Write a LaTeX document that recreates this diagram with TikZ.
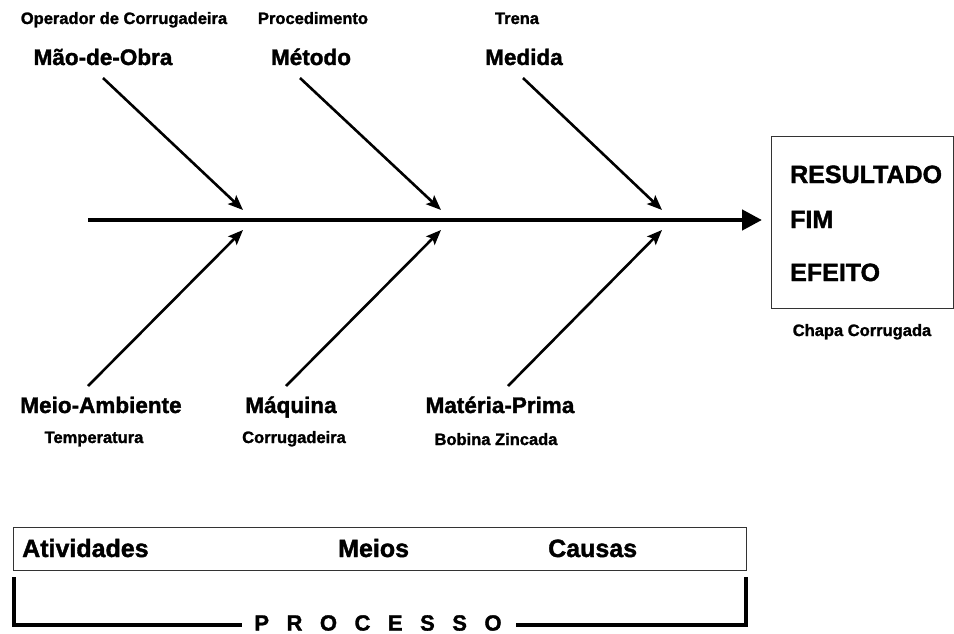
\documentclass[tikz,border=0pt]{standalone}
\usepackage{fontspec}
\setmainfont{Liberation Sans}[BoldFeatures={FakeBold=1.5}]
\usetikzlibrary{arrows.meta}
\begin{document}
\begin{tikzpicture}[x=1pt,y=-1pt,
  small/.style={font=\bfseries\fontsize{16.5}{17}\selectfont, inner sep=0pt, anchor=base},
  head/.style={font=\bfseries\fontsize{22.5}{23}\selectfont, inner sep=0pt, anchor=base},
  big/.style={font=\bfseries\fontsize{25}{26}\selectfont, inner sep=0pt, anchor=base west},
  spine/.style={line width=4.5pt, -{Triangle[length=20pt,width=20pt]}},
  bone/.style={line width=2.6pt, -{Stealth[length=15pt,width=12pt,inset=3pt]}},
  frame/.style={draw=black!80, line width=1.3pt},
  brack/.style={line width=3.5pt}
]
\useasboundingbox (0,0) rectangle (954,634);

% top labels
\node[small] (op) at (124,24) {Operador de Corrugadeira};
\node[small] (pr) at (313,24) {Procedimento};
\node[small] (tr) at (517,24) {Trena};
\node[head] (mo) at (103,65) {Mão-de-Obra};
\node[head] (me) at (311,65) {Método};
\node[head] (md) at (524,65) {Medida};

% bottom labels
\node[head] (ma) at (101,413) {Meio-Ambiente};
\node[head] (mq) at (291,413) {Máquina};
\node[head] (mp) at (500,413) {Matéria-Prima};
\node[small] (te) at (94,443) {Temperatura};
\node[small] (co) at (294,443) {Corrugadeira};
\node[small] (bz) at (496,445) {Bobina Zincada};

% spine
\coordinate (s0) at (88,220);
\coordinate (s1) at (762,220);
\draw[spine] (s0) -- (s1);

% bones
\coordinate (a1) at (103,78);  \coordinate (b1) at (243,210);
\coordinate (a2) at (300,78);  \coordinate (b2) at (441,210);
\coordinate (a3) at (523,78);  \coordinate (b3) at (662,210);
\coordinate (c1) at (88,386);  \coordinate (d1) at (243,230);
\coordinate (c2) at (286,386); \coordinate (d2) at (441,230);
\coordinate (c3) at (508,386); \coordinate (d3) at (662,230);
\draw[bone] (a1) -- (b1);
\draw[bone] (a2) -- (b2);
\draw[bone] (a3) -- (b3);
\draw[bone] (c1) -- (d1);
\draw[bone] (c2) -- (d2);
\draw[bone] (c3) -- (d3);

% result box
\node[frame, anchor=north west, minimum width=182pt, minimum height=172pt, inner sep=0pt] (res) at (771,136) {};
\node[big] (r1) at (790,183) {RESULTADO};
\node[big] (r2) at (790,228) {FIM};
\node[big] (r3) at (790,281) {EFEITO};
\node[small] (cc) at (862,336) {Chapa Corrugada};

% process box
\node[frame, anchor=north west, minimum width=733pt, minimum height=43pt, inner sep=0pt] (act) at (13,527) {};
\node[big] (t1) at (22,557) {Atividades};
\node[big] (t2) at (338,557) {Meios};
\node[big] (t3) at (548,557) {Causas};

% bracket
\node[font=\bfseries\fontsize{22}{22}\selectfont, inner sep=0pt] (proc) at (378,623)
  {P\hspace{17.5pt}R\hspace{17.5pt}O\hspace{17.5pt}C\hspace{17.5pt}E\hspace{17.5pt}S\hspace{17.5pt}S\hspace{17.5pt}O};
\coordinate (bl) at (14,577);
\coordinate (bl2) at (14,625);
\coordinate (br) at (746,577);
\coordinate (br2) at (746,625);
\coordinate (pl) at (242,625);
\coordinate (pr2) at (516,625);
\draw[brack] (bl) -- (bl2) -- (pl);
\draw[brack] (pr2) -- (br2) -- (br);
\end{tikzpicture}
\end{document}
